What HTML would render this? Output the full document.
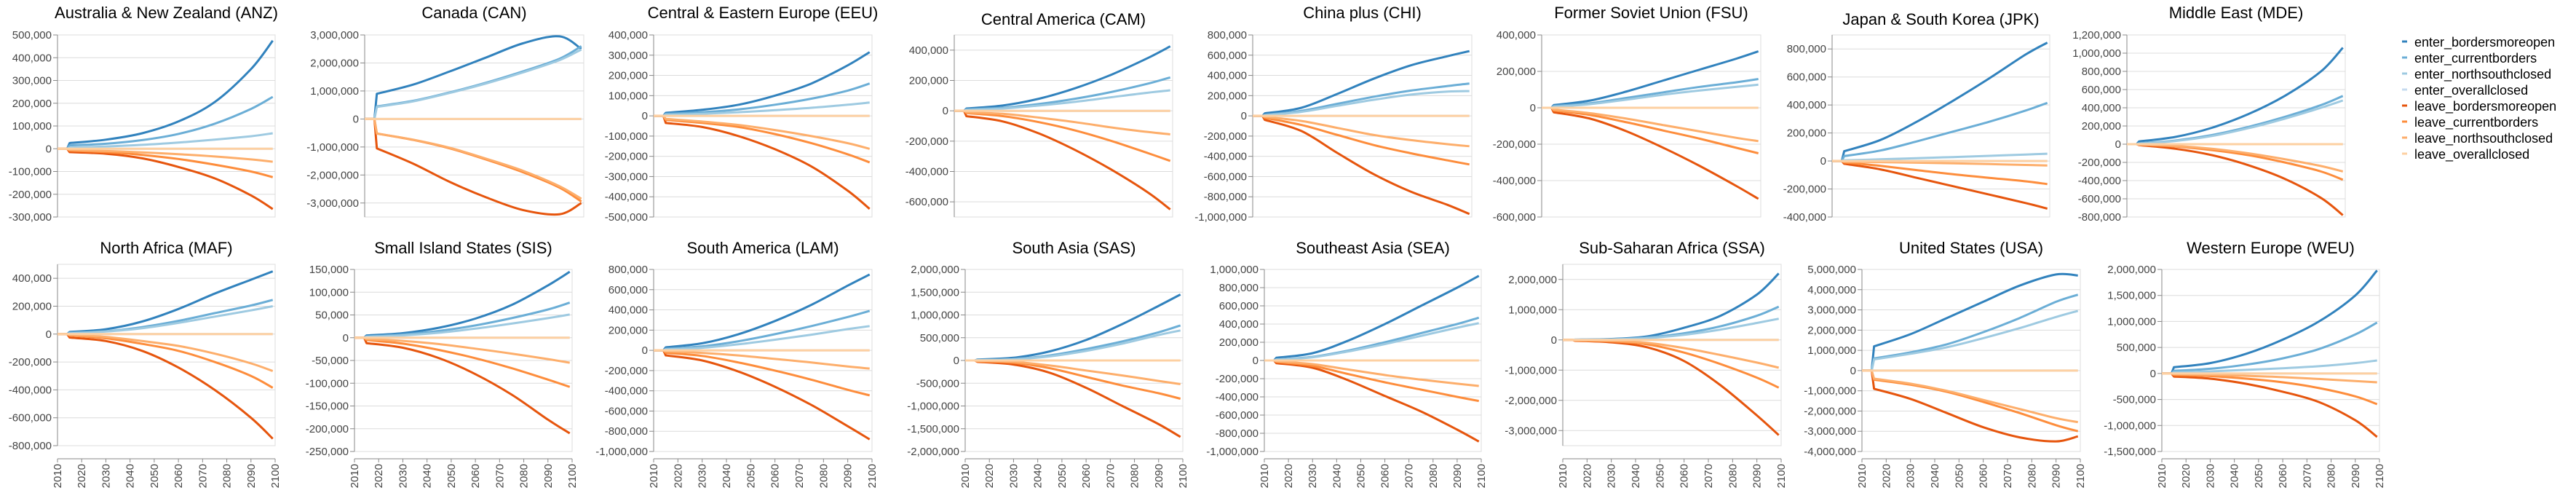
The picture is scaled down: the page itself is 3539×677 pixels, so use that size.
<!DOCTYPE html>
<html><head><meta charset="utf-8"><style>
html,body{margin:0;padding:0;background:#fff;}
svg{display:block;font-family:"Liberation Sans",sans-serif;}
</style></head><body>
<svg id="chart" width="3539" height="677" viewBox="0 0 3539 677" xmlns="http://www.w3.org/2000/svg"></svg>
<script>
// ---- data (values in thousands) ----
const years = [2010, 2014, 2015, 2030, 2045, 2060, 2075, 2090, 2099];
const seriesNames = ["enter_bordersmoreopen","enter_currentborders","enter_northsouthclosed","enter_overallclosed","leave_bordersmoreopen","leave_currentborders","leave_northsouthclosed","leave_overallclosed"];
const seriesColors = ["#3182bd","#6baed6","#9ecae1","#c6dbef","#e6550d","#fd8d3c","#fdae6b","#fdd0a2"];
const regionTitles = ["Australia & New Zealand (ANZ)","Canada (CAN)","Central & Eastern Europe (EEU)","Central America (CAM)","China plus (CHI)","Former Soviet Union (FSU)","Japan & South Korea (JPK)","Middle East (MDE)","North Africa (MAF)","Small Island States (SIS)","South America (LAM)","South Asia (SAS)","Southeast Asia (SEA)","Sub-Saharan Africa (SSA)","United States (USA)","Western Europe (WEU)"];
const Z = [0,0,0,0,0,0,0,0,0];
const ANZ = [[0,0,25,40,68,120,205,350,475],[0,0,15,22,38,65,110,175,228],[0,0,5,10,17,27,40,55,68],Z,[0,0,-15,-22,-42,-80,-130,-205,-265],[0,0,-8,-15,-27,-45,-70,-100,-125],[0,0,-5,-10,-16,-24,-34,-47,-57],Z];
const CAN = [[0,0,900,1230,1700,2200,2700,2950,2500],[0,0,450,650,950,1300,1700,2150,2600],[0,0,430,630,930,1270,1660,2100,2480],Z,[0,0,-1050,-1600,-2250,-2800,-3250,-3400,-3000],[0,0,-520,-750,-1050,-1450,-1900,-2450,-2950],[0,0,-520,-740,-1030,-1420,-1850,-2400,-2850],Z];
const EEU = [[0,0,15,30,55,100,160,250,315],[0,0,10,18,32,55,85,125,160],[0,0,5,10,18,28,40,55,66],Z,[0,0,-35,-55,-100,-165,-250,-370,-460],[0,0,-20,-35,-55,-90,-135,-190,-230],[0,0,-15,-28,-45,-70,-100,-135,-163],Z];
const CAM = [[0,0,15,35,80,150,240,350,425],[0,0,10,20,45,80,125,180,220],[0,0,5,15,35,60,90,120,135],Z,[0,0,-35,-70,-150,-260,-390,-540,-650],[0,0,-15,-35,-75,-130,-200,-280,-330],[0,0,-10,-20,-45,-75,-110,-140,-155],Z];
const CHI = [[0,0,25,80,220,370,500,590,640],[0,0,10,50,120,190,250,295,320],[0,0,5,40,100,160,210,240,245],Z,[0,0,-40,-150,-370,-580,-750,-880,-970],[0,0,-20,-90,-190,-290,-370,-440,-480],[0,0,-10,-50,-120,-190,-240,-280,-300],Z];
const FSU = [[0,0,15,40,90,150,210,270,310],[0,0,10,25,55,85,115,140,158],[0,0,5,20,45,72,95,115,127],Z,[0,0,-25,-60,-130,-220,-320,-430,-500],[0,0,-15,-40,-80,-125,-170,-220,-250],[0,0,-10,-30,-60,-95,-130,-165,-183],Z];
const JPK = [[0,0,70,150,280,430,590,760,845],[0,0,35,75,140,210,280,360,415],[0,0,5,12,20,28,37,46,52],Z,[0,0,-20,-60,-120,-180,-240,-300,-340],[0,0,-10,-35,-65,-95,-120,-145,-165],[0,0,-5,-8,-12,-17,-22,-28,-32],Z];
const MDE = [[0,0,30,80,180,330,530,800,1060],[0,0,10,40,100,190,300,430,530],[0,0,5,35,90,175,280,400,480],Z,[0,0,-10,-50,-120,-230,-380,-590,-780],[0,0,-5,-25,-65,-120,-200,-300,-390],[0,0,-5,-20,-50,-100,-165,-240,-300],Z];
const MAF = [[0,0,15,35,90,180,290,390,450],[0,0,10,20,50,95,150,205,245],[0,0,5,18,42,80,125,170,200],Z,[0,0,-25,-50,-120,-240,-400,-600,-750],[0,0,-10,-30,-70,-120,-200,-300,-385],[0,0,-5,-20,-50,-85,-140,-210,-265],Z];
const SIS = [[0,0,5,10,22,42,72,115,145],[0,0,3,7,15,27,43,62,77],[0,0,2,5,11,20,31,43,51],Z,[0,0,-12,-22,-45,-80,-125,-180,-210],[0,0,-5,-13,-27,-45,-67,-92,-108],[0,0,-3,-7,-14,-24,-35,-47,-55],Z];
const LAM = [[0,0,30,70,160,290,450,640,750],[0,0,15,40,90,160,240,330,390],[0,0,10,25,60,105,155,210,240],Z,[0,0,-50,-100,-210,-360,-540,-750,-880],[0,0,-25,-55,-120,-200,-290,-390,-445],[0,0,-10,-25,-50,-85,-120,-160,-180],Z];
const SAS = [[0,0,20,60,200,450,800,1200,1450],[0,0,10,30,110,250,420,620,770],[0,0,10,25,90,210,370,560,660],Z,[0,0,-30,-90,-270,-600,-1000,-1400,-1680],[0,0,-20,-50,-170,-360,-550,-720,-840],[0,0,-10,-30,-110,-220,-330,-450,-520],Z];
const SEA = [[0,0,30,80,220,400,600,800,930],[0,0,10,40,110,200,300,400,470],[0,0,10,35,100,180,270,360,410],Z,[0,0,-30,-80,-220,-390,-560,-760,-890],[0,0,-15,-60,-150,-240,-320,-400,-445],[0,0,-10,-40,-100,-160,-210,-255,-280],Z];
const SSA = [[0,0,10,30,120,400,800,1500,2200],[0,0,5,20,80,220,450,800,1100],[0,0,5,15,60,170,340,560,700],Z,[0,0,-30,-80,-250,-700,-1500,-2500,-3150],[0,0,-20,-50,-150,-420,-800,-1250,-1580],[0,0,-10,-30,-100,-270,-500,-750,-920],Z];
const USA = [[0,0,1200,1800,2600,3400,4200,4750,4700],[0,0,600,900,1300,1900,2600,3400,3750],[0,0,550,830,1150,1600,2100,2650,2950],Z,[0,0,-900,-1400,-2100,-2800,-3300,-3500,-3250],[0,0,-450,-700,-1050,-1550,-2100,-2700,-3000],[0,0,-400,-650,-1000,-1450,-1900,-2350,-2550],Z];
const WEU = [[0,0,120,200,380,650,1000,1500,1980],[0,0,50,90,170,290,470,750,980],[0,0,20,40,70,100,140,200,250],Z,[0,0,-60,-100,-200,-350,-550,-900,-1220],[0,0,-30,-50,-100,-170,-280,-440,-590],[0,0,-10,-25,-45,-70,-105,-145,-170],Z];
const regionData = [ANZ,CAN,EEU,CAM,CHI,FSU,JPK,MDE,MAF,SIS,LAM,SAS,SEA,SSA,USA,WEU];
const yMin = [-300,-3500,-500,-700,-1000,-600,-400,-800,-800,-250,-1000,-2000,-1000,-3500,-4000,-1500];
const yMax = [500,3000,400,500,800,400,900,1200,500,150,800,2000,1000,2500,5000,2000];
const yStep = [100,1000,100,200,200,200,200,200,200,50,200,500,200,1000,1000,500];
const xTicks = [2010,2020,2030,2040,2050,2060,2070,2080,2090,2100];

// ---- layout ----
const plotL = [79,501,898,1311,1721,2118,2517,2922, 79,487,898,1326,1737,2147,2558,2970];
const plotR = [378,802,1198,1611,2022,2419,2816,3222, 378,786,1198,1625,2035,2447,2858,3269];
const plotT = [48,48,48,48,48,48,48,48, 363,370,370,370,370,363,370,370];
const plotB = [298,298,298,298,298,298,298,298, 612,620,620,620,620,612,620,620];
const titleY = [25,25,25,34,25,25,34,25, 348,348,348,348,348,348,348,348];

const NS = "http://www.w3.org/2000/svg";
const svg = document.getElementById("chart");
function mk(tag, attrs, parent){
  const e = document.createElementNS(NS, tag);
  for (const k in attrs) e.setAttribute(k, attrs[k]);
  (parent||svg).appendChild(e);
  return e;
}
function fmt(v){ return (v*1000).toLocaleString("en-US"); }

function smoothPath(pts){
  // straight for first 3 points (flat + jump), Catmull-Rom afterwards
  let d = "M"+pts[0][0]+","+pts[0][1]+" L"+pts[1][0]+","+pts[1][1]+" L"+pts[2][0]+","+pts[2][1];
  const s = pts.slice(2);
  for (let i=0;i<s.length-1;i++){
    const p0 = s[i-1]||s[i], p1=s[i], p2=s[i+1], p3=s[i+2]||s[i+1];
    const c1x = p1[0]+(p2[0]-p0[0])/6, c1y = p1[1]+(p2[1]-p0[1])/6;
    const c2x = p2[0]-(p3[0]-p1[0])/6, c2y = p2[1]-(p3[1]-p1[1])/6;
    d += " C"+c1x.toFixed(1)+","+c1y.toFixed(1)+" "+c2x.toFixed(1)+","+c2y.toFixed(1)+" "+p2[0].toFixed(1)+","+p2[1].toFixed(1);
  }
  return d;
}

for (let r=0;r<16;r++){
  const L=plotL[r], R=plotR[r], T=plotT[r], B=plotB[r];
  const xS = y => L + (y-2010)/90*(R-L);
  const yS = v => B - (v-yMin[r])/(yMax[r]-yMin[r])*(B-T);
  const g = mk("g", {});
  
  

  const t = mk("text", {x:(L+R)/2, y:titleY[r], "text-anchor":"middle", "font-size":"22", fill:"#000"}, g);
  t.textContent = regionTitles[r];
  
  

  // plot frame
  const fr = mk("rect", {x:L, y:T, width:R-L, height:B-T, fill:"none", stroke:"#dcdcdc", "stroke-width":1}, g);
  
  

  // y ticks + grid
  const first = Math.ceil(yMin[r]/yStep[r])*yStep[r];
  for (let v=first; v<=yMax[r]+1e-6; v+=yStep[r]){
    const y = yS(v);
    const gl = mk("line", {x1:L, x2:R, y1:y, y2:y, stroke:"#dcdcdc", "stroke-width":1}, g);
    
    
    mk("line", {x1:L-6, x2:L, y1:y, y2:y, stroke:"#888", "stroke-width":1}, g);
    const lt = mk("text", {x:L-8, y:y+5, "text-anchor":"end", "font-size":"15", fill:"#444"}, g);
    lt.textContent = fmt(v);
    
    
  }
  const ya = mk("line", {x1:L, x2:L, y1:T, y2:B, stroke:"#888", "stroke-width":1}, g);
  
  

  // x axis (bottom row only)
  if (r>=8){
    const ay = 630;
    const xa = mk("line", {x1:L, x2:R, y1:ay, y2:ay, stroke:"#888", "stroke-width":1}, g);
    
    
    xTicks.forEach(yr=>{
      const x = xS(yr);
      mk("line", {x1:x, x2:x, y1:ay, y2:ay+5, stroke:"#888", "stroke-width":1}, g);
      const xt = mk("text", {x:0, y:0, "text-anchor":"end", "font-size":"15", fill:"#444", transform:"translate("+(x+5)+","+(ay+7)+") rotate(-90)"}, g);
      xt.textContent = yr;
      
      
    });
  }

  // series
  regionData[r].forEach((vals, si)=>{
    const pts = vals.map((v,i)=>[xS(years[i]), yS(v)]);
    const p = mk("path", {d:smoothPath(pts), fill:"none", stroke:seriesColors[si], "stroke-width":3, "stroke-linejoin":"round"}, g);
    
    
  });
}

// legend
const lg = mk("g", {});


seriesNames.forEach((n,i)=>{
  const y = 64 + i*22;
  const ln = mk("line", {x1:3300, x2:3307, y1:y-7, y2:y-7, stroke:seriesColors[i], "stroke-width":3}, lg);
  
  
  const tx = mk("text", {x:3317, y:y, "font-size":"18", fill:"#000"}, lg);
  tx.textContent = n;
  
  
});
</script>
</body></html>
